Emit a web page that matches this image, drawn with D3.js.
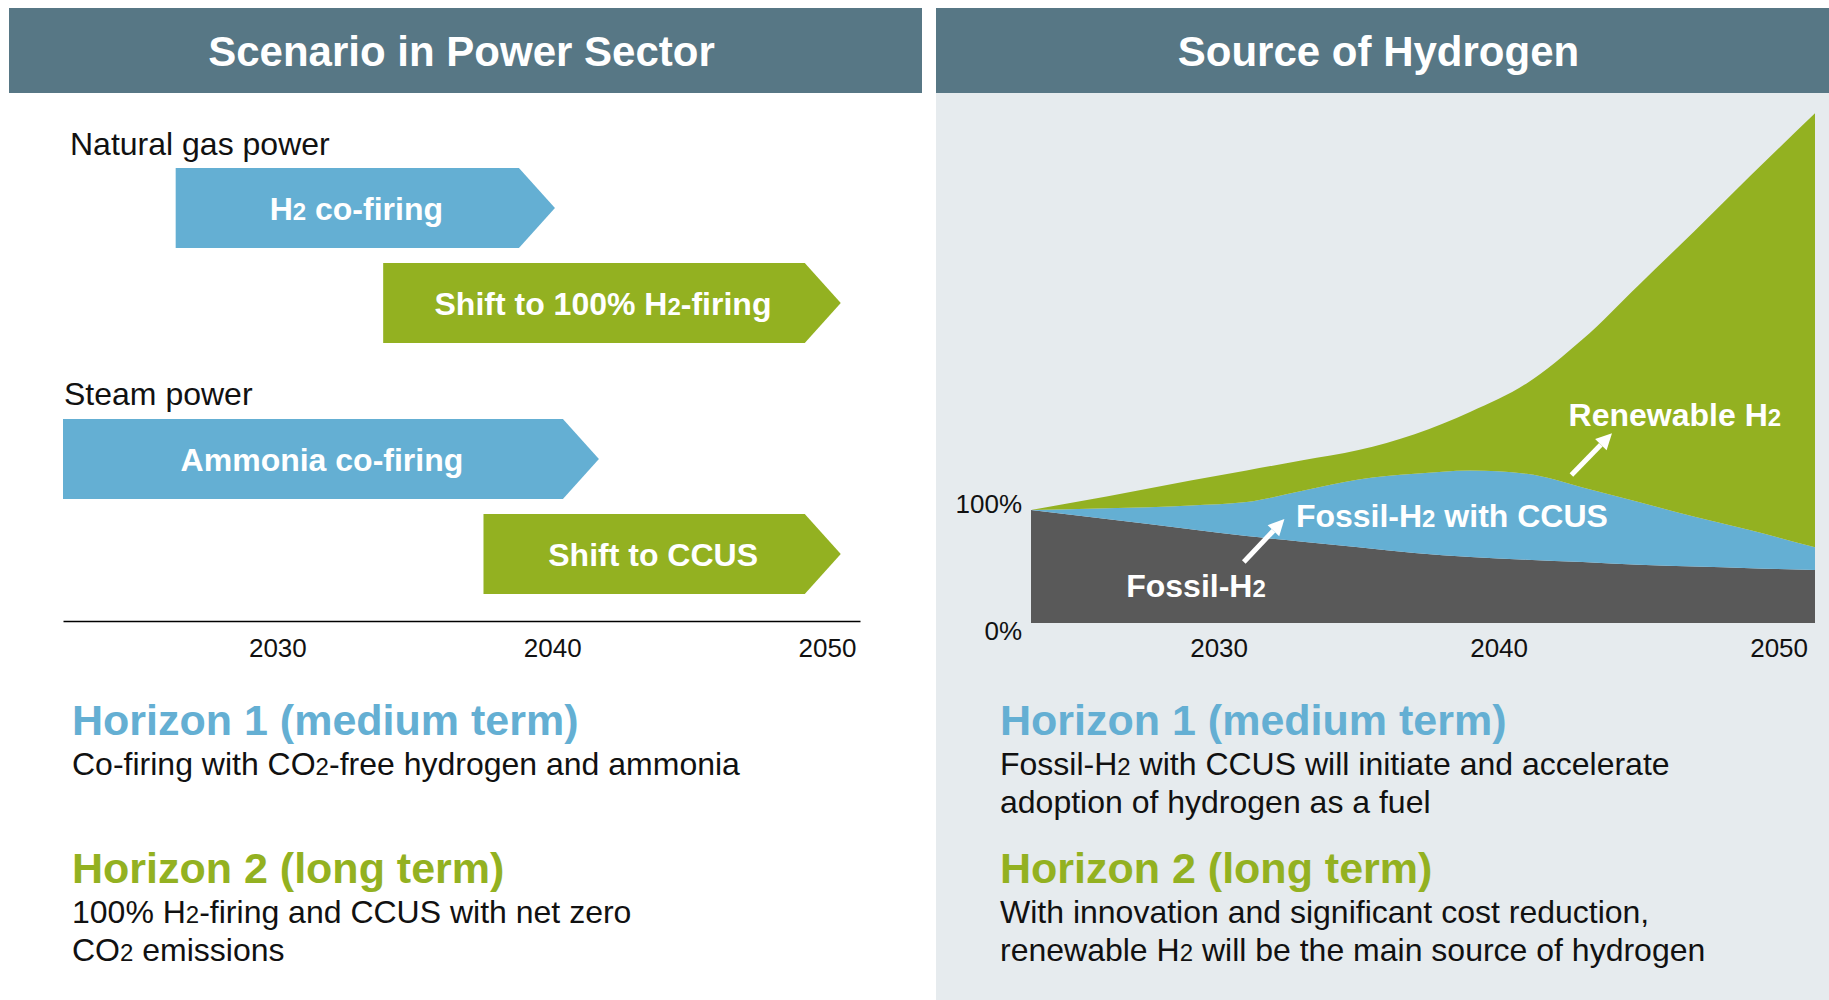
<!DOCTYPE html>
<html>
<head>
<meta charset="utf-8">
<script src="https://cdn.jsdelivr.net/npm/d3@7"></script>
<style>
  body { margin: 0; background: #fff; }
  svg text { font-family: "Liberation Sans", Arial, Helvetica, sans-serif; }
</style>
</head>
<body>
<div class="container"></div>
<script>
var width = 1829, height = 1000;

var blue = "#64afd3", green = "#93b121", dark = "#595959",
    headerFill = "#577785", panelFill = "#e6ebee", ink = "#111";

// ---------- DATA ----------
var panelTitles = ["Scenario in Power Sector", "Source of Hydrogen"];

// left: timeline of measures
var groupNames = ["Natural gas power", "Steam power"];
var barLabels = ["H2 co-firing", "Shift to 100% H2-firing", "Ammonia co-firing", "Shift to CCUS"];
var barGroup  = [0, 0, 1, 1];
var barRow    = [0, 1, 0, 1];
var barStart  = [2026.3, 2033.85, 2022.2, 2037.5];
var barEnd    = [2040.1, 2050.5, 2041.7, 2050.5];
var barKind   = ["medium", "long", "medium", "long"];

var yearTicks = [2030, 2040, 2050];

// right: hydrogen source, share of today's supply (%)
var areaYears      = [2023.3, 2026, 2029, 2031, 2033, 2035, 2037, 2039, 2041, 2043, 2045, 2047, 2049, 2051.3];
var fossilShare    = [100, 92, 83, 77, 72, 67, 62, 58.5, 56, 54, 51.5, 50, 48.5, 47];
var ccusShare      = [0, 9.5, 21, 30, 45, 60, 70, 76.5, 76, 66, 55.5, 44, 33.5, 20];
var renewableShare = [0, 10.5, 22, 28, 27, 26, 35, 52, 80, 131, 192, 253, 314, 384];
var shareTicks = [0, 100];

// annotations on the area chart
var areaNotes = [
  {label: "Renewable H2", year: 2042.5, share: 174, from: [2042.6, 131], to: [2044.05, 168]},
  {label: "Fossil-H2 with CCUS", year: 2032.76, share: 85, from: [2030.9, 54], to: [2032.35, 92]},
  {label: "Fossil-H2", year: 2026.7, share: 23, from: null, to: null}
];

var leftNotes = [
  {title: "Horizon 1 (medium term)", kind: "medium", lines: ["Co-firing with CO2-free hydrogen and ammonia"]},
  {title: "Horizon 2 (long term)", kind: "long", lines: ["100% H2-firing and CCUS with net zero", "CO2 emissions"]}
];
var rightNotes = [
  {title: "Horizon 1 (medium term)", kind: "medium", lines: ["Fossil-H2 with CCUS will initiate and accelerate", "adoption of hydrogen as a fuel"]},
  {title: "Horizon 2 (long term)", kind: "long", lines: ["With innovation and significant cost reduction,", "renewable H2 will be the main source of hydrogen"]}
];

var kindColor = {medium: blue, long: green};

// ---------- SVG ----------
var svg = d3.select(".container").append("svg")
    .attr("width", width)
    .attr("height", height);

// text with small "2" after H / O (H2, CO2)
function rich(sel, str) {
  var re = /([HO])2/g, last = 0, m;
  while ((m = re.exec(str)) !== null) {
    sel.append("tspan").text(str.slice(last, m.index + 1));
    sel.append("tspan").style("font-size", "75%").text("2");
    last = m.index + 2;
  }
  sel.append("tspan").text(str.slice(last));
}

// ---------- PANELS ----------
svg.append("rect")
    .attr("x", 936).attr("y", 93).attr("width", width - 936).attr("height", height - 93)
    .attr("fill", panelFill);

var headers = [{x: 9, w: 913}, {x: 936, w: width - 936}];
headers.forEach(function(h, i) {
  svg.append("rect")
      .attr("x", h.x).attr("y", 8).attr("width", h.w).attr("height", 85)
      .attr("fill", headerFill);
  svg.append("text")
      .attr("x", h.x + h.w / 2 - 4).attr("y", 66)
      .attr("text-anchor", "middle")
      .attr("fill", "#fff")
      .attr("font-size", 42)
      .attr("font-weight", "bold")
      .text(panelTitles[i]);
});

// ---------- LEFT: TIMELINE ----------
var xL = d3.scaleLinear().domain([2022.2, 2051.2]).range([63, 860]);
var barH = 80, tip = 36, rowStep = 95, groupStep = 251, barTop = 168;

var barData = barLabels.map(function(l, i) {
  return {label: l, group: barGroup[i], row: barRow[i], start: barStart[i], end: barEnd[i], kind: barKind[i]};
});

groupNames.forEach(function(g, i) {
  svg.append("text")
      .attr("x", i === 0 ? 70 : 64)
      .attr("y", barTop - 13 + i * groupStep - (i === 0 ? 0 : 1))
      .attr("font-size", 32)
      .attr("fill", ink)
      .text(g);
});

var barG = svg.append("g").attr("class", "bars")
  .selectAll("g")
  .data(barData)
  .enter().append("g");

barG.append("path")
    .attr("fill", function(d) { return kindColor[d.kind]; })
    .attr("d", function(d) {
      var x0 = xL(d.start), x1 = xL(d.end),
          y0 = barTop + d.group * groupStep + d.row * rowStep;
      return "M" + x0 + "," + y0 + "H" + (x1 - tip) + "L" + x1 + "," + (y0 + barH / 2) +
             "L" + (x1 - tip) + "," + (y0 + barH) + "H" + x0 + "Z";
    });

barG.append("text")
    .attr("x", function(d) { return (xL(d.start) + xL(d.end) - tip) / 2 + tip / 4; })
    .attr("y", function(d) { return barTop + d.group * groupStep + d.row * rowStep + barH / 2; })
    .attr("dy", "0.36em")
    .attr("text-anchor", "middle")
    .attr("fill", "#fff")
    .attr("font-size", 32)
    .attr("font-weight", "bold")
    .each(function(d) { rich(d3.select(this), d.label); });

var axisL = svg.append("g")
    .attr("transform", "translate(0,621)")
    .call(d3.axisBottom(xL).tickValues(yearTicks).tickSize(0).tickPadding(18).tickFormat(d3.format("d")));
axisL.select(".domain").attr("stroke", "#000").attr("stroke-width", 1.5);
axisL.selectAll("text").attr("font-size", 26).attr("fill", ink).attr("font-family", null);

// ---------- RIGHT: STACKED AREA ----------
var xR = d3.scaleLinear().domain([2023.3, 2051.3]).range([1031, 1815]);
var yR = d3.scaleLinear().domain([0, 100]).range([623, 510]);

var table = areaYears.map(function(y, i) {
  return {year: y, fossil: fossilShare[i], ccus: ccusShare[i], renewable: renewableShare[i]};
});
var series = d3.stack().keys(["fossil", "ccus", "renewable"])(table);
var seriesColor = {fossil: dark, ccus: blue, renewable: green};

var area = d3.area()
    .x(function(d) { return xR(d.data.year); })
    .y0(function(d) { return yR(d[0]); })
    .y1(function(d) { return yR(d[1]); })
    .curve(d3.curveMonotoneX);

svg.append("g").attr("class", "areas")
  .selectAll("path")
  .data(series)
  .enter().append("path")
    .attr("fill", function(d) { return seriesColor[d.key]; })
    .attr("d", area);

var axisRx = svg.append("g")
    .attr("transform", "translate(0,623)")
    .call(d3.axisBottom(xR).tickValues(yearTicks).tickSize(0).tickPadding(16).tickFormat(d3.format("d")));
axisRx.select(".domain").remove();
axisRx.selectAll("text").attr("font-size", 26).attr("fill", ink).attr("font-family", null);

var axisRy = svg.append("g")
    .attr("transform", "translate(1031,0)")
    .call(d3.axisLeft(yR).tickValues(shareTicks).tickSize(0).tickPadding(9).tickFormat(function(d) { return d + "%"; }));
axisRy.select(".domain").remove();
axisRy.selectAll("text")
    .attr("font-size", 26).attr("fill", ink).attr("font-family", null)
    .attr("dy", function(d) { return d === 0 ? "0.62em" : "0.1em"; });

// annotations
var notesG = svg.append("g").attr("class", "area-notes");
areaNotes.forEach(function(n) {
  notesG.append("text")
      .attr("x", xR(n.year)).attr("y", yR(n.share))
      .attr("fill", "#fff")
      .attr("font-size", 32)
      .attr("font-weight", "bold")
      .each(function() { rich(d3.select(this), n.label); });
  if (n.from) {
    var x0 = xR(n.from[0]), y0 = yR(n.from[1]), x1 = xR(n.to[0]), y1 = yR(n.to[1]);
    var ang = Math.atan2(y1 - y0, x1 - x0), hl = 16, hw = 8;
    var bx = x1 - hl * Math.cos(ang), by = y1 - hl * Math.sin(ang);
    notesG.append("line")
        .attr("x1", x0).attr("y1", y0).attr("x2", bx).attr("y2", by)
        .attr("stroke", "#fff").attr("stroke-width", 5);
    notesG.append("path")
        .attr("fill", "#fff")
        .attr("d", "M" + x1 + "," + y1 +
          "L" + (bx + hw * Math.sin(ang)) + "," + (by - hw * Math.cos(ang)) +
          "L" + (bx - hw * Math.sin(ang)) + "," + (by + hw * Math.cos(ang)) + "Z");
  }
});

// ---------- HORIZON NOTES ----------
function drawNotes(notes, x, lineGap) {
  var g = svg.append("g");
  var titleY = [735, 883];
  notes.forEach(function(n, i) {
    g.append("text")
        .attr("x", x).attr("y", titleY[i])
        .attr("fill", kindColor[n.kind])
        .attr("font-size", 43)
        .attr("font-weight", "bold")
        .text(n.title);
    n.lines.forEach(function(l, j) {
      g.append("text")
          .attr("x", x).attr("y", titleY[i] + 40 + j * lineGap)
          .attr("fill", ink)
          .attr("font-size", 32)
          .each(function() { rich(d3.select(this), l); });
    });
  });
}
drawNotes(leftNotes, 72, 38);
drawNotes(rightNotes, 1000, 38);
</script>
</body>
</html>
